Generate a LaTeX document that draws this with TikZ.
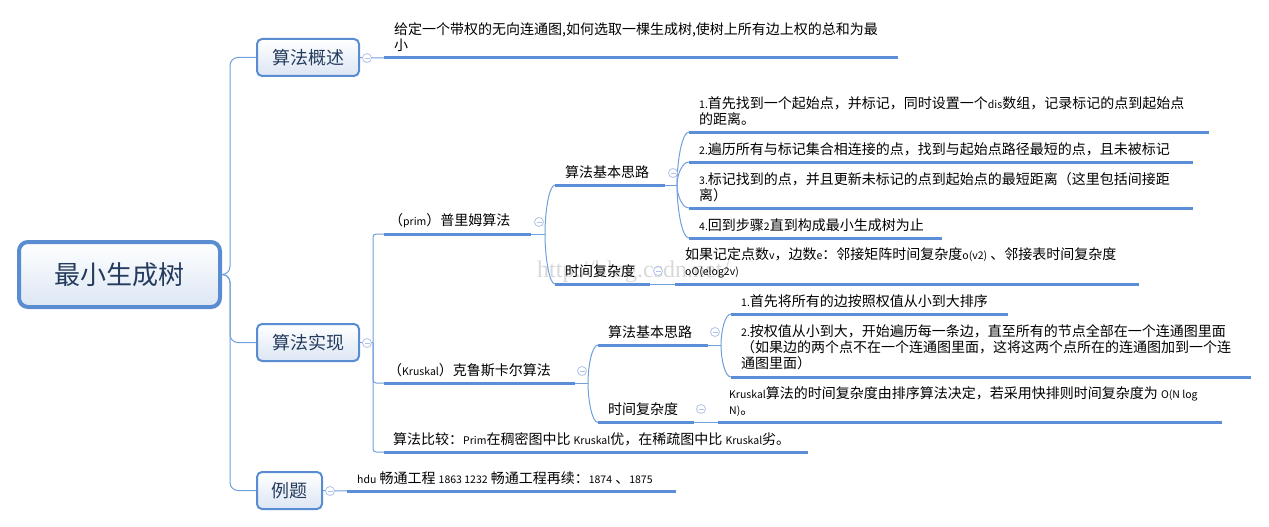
\documentclass[tikz,border=0pt]{standalone}
\usepackage{fontspec}
\setmainfont{Noto Sans CJK SC}
\newfontfamily\wmfont{Liberation Serif}
\usetikzlibrary{calc}
\definecolor{ul}{HTML}{5B8ED6}
\definecolor{cn}{HTML}{6F9FDD}
\definecolor{bd}{HTML}{5A8CD2}
\definecolor{bx}{HTML}{DCE6F4}
\definecolor{tx}{HTML}{243B5E}
\definecolor{cc}{HTML}{AFC3E8}
\definecolor{wm}{HTML}{D8D8D8}
\newcommand\lat[1]{{\fontsize{10.5}{12}\selectfont #1}}
\begin{document}
\begin{tikzpicture}[x=1pt,y=-1pt,
  conn/.style={draw=cn, line width=1pt},
  uline/.style={draw=ul, line width=3pt},
  box/.style={draw=bd, line width=2pt, rounded corners=5pt, top color=white, bottom color=bx, text=tx, inner sep=0pt, font=\fontsize{18}{20}\selectfont, minimum height=37pt},
  rootbox/.style={box, line width=4pt, rounded corners=9pt, minimum width=201pt, minimum height=65pt, font=\fontsize{26}{28}\selectfont},
  txt/.style={anchor=south west, inner sep=0pt, align=left, font=\fontsize{14}{16}\selectfont},
  fold/.style={circle, draw=cc, fill=white, line width=0.8pt, minimum size=9pt, inner sep=0pt,
    path picture={\draw[cc, line width=0.8pt] ([xshift=-2.5pt]path picture bounding box.center) -- ([xshift=2.5pt]path picture bounding box.center);}}
]
\useasboundingbox (0,0) rectangle (1269,527);
% watermark
\node[text=wm, font=\wmfont\fontsize{24}{24}\selectfont, anchor=west, inner sep=0pt] (wmk) at (537,272) {http://blog.csdn.net/};

% root and level 1
\node[rootbox] (root) at (119.5,274.5) {最小生成树};
\node[box, minimum width=102pt] (b1) at (308,57.5) {算法概述};
\node[box, minimum width=102pt] (b2) at (308,342.5) {算法实现};
\node[box, minimum width=65pt] (b3) at (289.5,490.5) {例题};
\draw[conn, rounded corners=8pt] (root.east) -- ++(8,0) |- (b1.west);
\draw[conn, rounded corners=8pt] (root.east) -- ++(8,0) |- (b2.west);
\draw[conn, rounded corners=8pt] (root.east) -- ++(8,0) |- (b3.west);

% overview
\coordinate (ovA) at (384,58); \coordinate (ovB) at (898,58);
\draw[conn] (b1.east) -- (ovA);
\draw[uline] (ovA) -- (ovB);
\node[txt] (ov) at (394,52) {给定一个带权的无向连通图,如何选取一棵生成树,使树上所有边上权的总和为最\\小};
\node[fold] (f1) at (367,58) {};

% implementation
\coordinate (j2) at (373,342.5);
\coordinate (primA) at (384,234); \coordinate (primB) at (531,234);
\coordinate (krA) at (384,383); \coordinate (krB) at (575,383);
\coordinate (cmpA) at (384,452); \coordinate (cmpB) at (808,452);
\draw[conn] (b2.east) -- (j2);
\draw[conn, rounded corners=3pt] (j2) |- (primA);
\draw[conn, rounded corners=3pt] (j2) |- (krA);
\draw[conn, rounded corners=3pt] (j2) |- (cmpA);
\draw[uline] (primA) -- (primB);
\draw[uline] (krA) -- (krB);
\draw[uline] (cmpA) -- (cmpB);
\node[fold] (f2) at (367,343) {};

% prim
\node[txt] (prim) at (389,228) {（\lat{prim}）普里姆算法};
\coordinate (jp) at (545,234);
\draw[conn] (primB) -- (jp);
\coordinate (pideaA) at (555,185); \coordinate (pideaB) at (665,185);
\coordinate (ptA) at (555,284); \coordinate (ptB) at (650,284);
\draw[conn] (jp) .. controls +(0,-22) and +(-6,0) .. (pideaA);
\draw[conn] (jp) .. controls +(0,22) and +(-6,0) .. (ptA);
\draw[uline] (pideaA) -- (pideaB);
\draw[uline] (ptA) -- (ptB);
\node[fold] (fp) at (539,222) {};
\node[txt] (pidea) at (565,179) {算法基本思路};
\node[txt] (ptime) at (565,278) {时间复杂度};

\coordinate (jpi) at (677,185);
\draw[conn] (pideaB) -- (jpi);
\coordinate (i1A) at (689,132); \coordinate (i1B) at (1209,132);
\coordinate (i2A) at (689,162); \coordinate (i2B) at (1193,162);
\coordinate (i3A) at (689,208); \coordinate (i3B) at (1193,208);
\coordinate (i4A) at (689,238); \coordinate (i4B) at (942,238);
\draw[conn] (jpi) .. controls +(0,-24) and +(-7,0) .. (i1A);
\draw[conn] (jpi) .. controls +(0,-10) and +(-7,0) .. (i2A);
\draw[conn] (jpi) .. controls +(0,10) and +(-7,0) .. (i3A);
\draw[conn] (jpi) .. controls +(0,24) and +(-7,0) .. (i4A);
\draw[uline] (i1A) -- (i1B);
\draw[uline] (i2A) -- (i2B);
\draw[uline] (i3A) -- (i3B);
\draw[uline] (i4A) -- (i4B);
\node[fold] (fpi) at (673,173) {};
\node[txt] (i1) at (699,126) {\lat{1.}首先找到一个起始点，并标记，同时设置一个\lat{dis}数组，记录标记的点到起始点\\的距离。};
\node[txt] (i2) at (699,156) {\lat{2.}遍历所有与标记集合相连接的点，找到与起始点路径最短的点，且未被标记};
\node[txt] (i3) at (699,202) {\lat{3.}标记找到的点，并且更新未标记的点到起始点的最短距离（这里包括间接距\\离）};
\node[txt] (i4) at (699,232) {\lat{4.}回到步骤\lat{2}直到构成最小生成树为止};

\coordinate (ptdA) at (675,284); \coordinate (ptdB) at (1139,284);
\draw[conn] (ptB) -- (ptdA);
\draw[uline] (ptdA) -- (ptdB);
\node[fold] (fpt) at (658,271) {};
\node[txt] (ptd) at (685,278) {如果记定点数\lat{v}，边数\lat{e}：邻接矩阵时间复杂度\lat{o(v2)} 、邻接表时间复杂度\\\lat{oO(elog2v)}};

% kruskal
\node[txt] (kr) at (388,377) {（\lat{Kruskal}）克鲁斯卡尔算法};
\node[fold] (fk) at (582,371) {};
\coordinate (jk) at (588,383);
\draw[conn] (krB) -- (jk);
\coordinate (kiA) at (598,345); \coordinate (kiB) at (708,345);
\coordinate (ktA) at (598,422.5); \coordinate (ktB) at (694,422.5);
\draw[conn] (jk) .. controls +(0,-17) and +(-6,0) .. (kiA);
\draw[conn] (jk) .. controls +(0,17) and +(-6,0) .. (ktA);
\draw[uline] (kiA) -- (kiB);
\draw[uline] (ktA) -- (ktB);
\node[txt] (kidea) at (608,339) {算法基本思路};
\node[txt] (ktime) at (608,416) {时间复杂度};

\coordinate (jki) at (721,345);
\draw[conn] (kiB) -- (jki);
\coordinate (k1A) at (731,314); \coordinate (k1B) at (1008,314);
\coordinate (k2A) at (731,377); \coordinate (k2B) at (1251,377);
\draw[conn] (jki) .. controls +(0,-14) and +(-6,0) .. (k1A);
\draw[conn] (jki) .. controls +(0,14) and +(-6,0) .. (k2A);
\draw[uline] (k1A) -- (k1B);
\draw[uline] (k2A) -- (k2B);
\node[fold] (fki) at (715,332) {};
\node[txt] (k1) at (741,308) {\lat{1.}首先将所有的边按照权值从小到大排序};
\node[txt] (k2) at (741,370) {\lat{2.}按权值从小到大，开始遍历每一条边，直至所有的节点全部在一个连通图里面\\（如果边的两个点不在一个连通图里面，这将这两个点所在的连通图加到一个连\\通图里面）};

\coordinate (ktdA) at (718,422.5); \coordinate (ktdB) at (1222,422.5);
\draw[conn] (ktB) -- (ktdA);
\draw[uline] (ktdA) -- (ktdB);
\node[fold] (fkt) at (701,409) {};
\node[txt] (ktd) at (729,417) {\lat{Kruskal}算法的时间复杂度由排序算法决定，若采用快排则时间复杂度为 \lat{O(N log}\\\lat{N)}。};

% comparison
\node[txt] (cmp) at (393,446) {算法比较：\lat{Prim}在稠密图中比 \lat{Kruskal}优，在稀疏图中比 \lat{Kruskal}劣。};

% examples
\coordinate (hdA) at (347,491); \coordinate (hdB) at (676,491);
\draw[conn] (b3.east) -- (hdA);
\draw[uline] (hdA) -- (hdB);
\node[fold] (f3) at (330,491) {};
\node[txt] (hdu) at (357,485) {\lat{hdu} 畅通工程 \lat{1863 1232} 畅通工程再续：\lat{1874} 、\lat{1875}};
\end{tikzpicture}
\end{document}
